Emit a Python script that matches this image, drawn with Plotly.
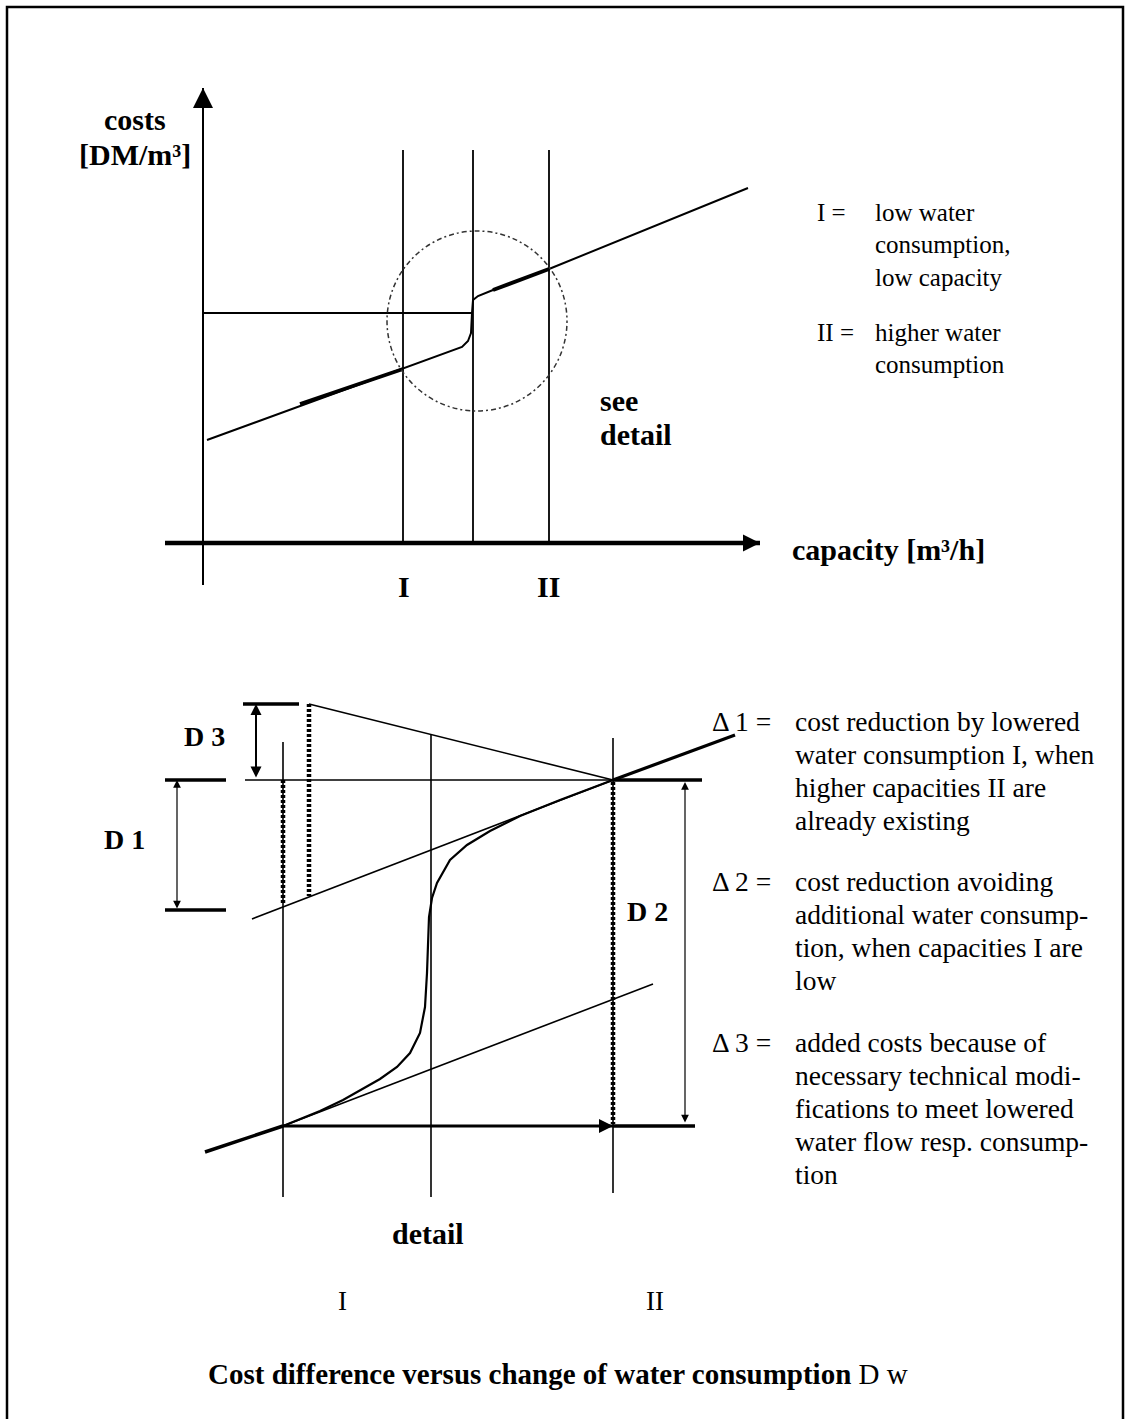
import plotly.graph_objects as go

W, H = 1128, 1419
FONT = "Liberation Serif"

# ---------------- frame ----------------
FRAME_X = [7, 7, 1123, 1123]
FRAME_Y = [1419, 7, 7, 1419]

# ---------------- upper chart ----------------
Y_AXIS_X = [203, 203]
Y_AXIS_Y = [585, 88]
X_AXIS_X = [165, 760]
X_AXIS_Y = [543, 543]
VERT_X = [403, 473, 549]
VERT_Y = [150, 543]
HLINE_X = [203, 473]
HLINE_Y = [313, 313]
COST_X = [207, 403, 447, 462, 468, 471, 472, 473, 478, 493, 549, 748]
COST_Y = [440, 369, 353, 347, 341, 333, 313, 300, 296, 290, 269, 188]
COST_THICK1_X = [300, 403]
COST_THICK1_Y = [404, 369]
COST_THICK2_X = [493, 549]
COST_THICK2_Y = [290, 269]
CIRCLE = dict(cx=477, cy=321, r=90)

# ---------------- detail chart ----------------
D3_TICK_X = [243, 299]
D3_TICK_Y = [704, 704]
D3_ARROW = dict(x=256, y0=704, y1=779)
D1_TICKS_X = [165, 226]
D1_TICKS_Y = [780, 910]
D1_ARROW = dict(x=177, y0=780, y1=910)
D2_ARROW = dict(x=685, y0=782, y1=1124)
HL_THIN_X = [245, 613]
HL_Y = 780
HL_THICK_X = [613, 702]
BOTTOM_THICK_X = [613, 695]
BOTTOM_Y = 1126
BOTTOM_ARROW_X = [283, 613]
DV_X = [283, 431, 613]
DV_Y0 = [742, 735, 738]
DV_Y1 = [1197, 1197, 1193]
DOT_X = [283, 309, 613]
DOT_Y0 = [780, 704, 782]
DOT_Y1 = [903, 896, 1124]
DESC_X = [309, 613]
DESC_Y = [704, 780]
UPPER_TAN_X = [252, 613]
UPPER_TAN_Y = [919, 780]
UPPER_THICK_X = [613, 735]
UPPER_THICK_Y = [780, 735]
LOWER_TAN_X = [283, 653]
LOWER_TAN_Y = [1126, 984]
LOWER_THICK_X = [205, 283]
LOWER_THICK_Y = [1152, 1126]
S_X = [283, 320, 343, 363, 380, 397, 410, 420, 425, 427, 428, 429, 432, 437, 450, 467, 490, 520, 560, 590, 613]
S_Y = [1126, 1111, 1100, 1089, 1079, 1067, 1053, 1033, 1007, 973, 940, 917, 898, 883, 860, 845, 831, 816, 800, 789, 780]

# ---------------- texts ----------------
# (text, x, y, anchor, size)
BOLD_LABELS = [
    ("costs", 135, 119, "center", 30),
    ("[DM/m³]", 135, 154, "center", 30),
    ("see", 598, 400, "left", 30),
    ("detail", 598, 434, "left", 30),
    ("capacity [m³/h]", 790, 549, "left", 30),
    ("I", 404, 586, "center", 30),
    ("II", 548, 586, "center", 30),
    ("D 3", 182, 736, "left", 28),
    ("D 1", 102, 839, "left", 28),
    ("D 2", 625, 911, "left", 28),
    ("detail", 428, 1233, "center", 30),
]
LEGEND_LABELS = [
    ("I =", 815, 212), ("low water", 873, 212), ("consumption,", 873, 244),
    ("low capacity", 873, 277), ("II =", 815, 332), ("higher water", 873, 332),
    ("consumption", 873, 364),
]
DELTA_LABELS = [
    ("Δ 1 =", 710, 721), ("cost reduction by lowered", 793, 721),
    ("water consumption I, when", 793, 754), ("higher capacities II are", 793, 787),
    ("already existing", 793, 820),
    ("Δ 2 =", 710, 881), ("cost reduction avoiding", 793, 881),
    ("additional water consump-", 793, 914), ("tion, when capacities I are", 793, 947),
    ("low", 793, 980),
    ("Δ 3 =", 710, 1042), ("added costs because of", 793, 1042),
    ("necessary technical modi-", 793, 1075), ("fications to meet lowered", 793, 1108),
    ("water flow resp. consump-", 793, 1141), ("tion", 793, 1174),
]
CENTER_REG = [("I", 342, 1301), ("II", 655, 1301)]
TITLE = ("<b>Cost difference versus change of water consumption</b> D w", 206, 1374)

fig = go.Figure()


def line(xs, ys, width=1.6, dash=None, color="black"):
    fig.add_trace(go.Scatter(x=xs, y=ys, mode="lines", hoverinfo="skip",
                             line=dict(color=color, width=width, dash=dash),
                             showlegend=False))


# frame
line(FRAME_X, FRAME_Y, 2.5)

# upper chart
line(Y_AXIS_X, Y_AXIS_Y, 2)
line(X_AXIS_X, X_AXIS_Y, 4.5)
for vx in VERT_X:
    line([vx, vx], VERT_Y, 1.8)
line(HLINE_X, HLINE_Y, 1.8)
line(COST_X, COST_Y, 2)
line(COST_THICK1_X, COST_THICK1_Y, 3.5)
line(COST_THICK2_X, COST_THICK2_Y, 4)

# detail chart
line(D3_TICK_X, D3_TICK_Y, 3.5)
for ty in D1_TICKS_Y:
    line(D1_TICKS_X, [ty, ty], 3.5)
line(HL_THIN_X, [HL_Y, HL_Y], 1.5)
line(HL_THICK_X, [HL_Y, HL_Y], 3.5)
line(BOTTOM_THICK_X, [BOTTOM_Y, BOTTOM_Y], 3.5)
line(BOTTOM_ARROW_X, [BOTTOM_Y, BOTTOM_Y], 3.2)
for vx, a, b in zip(DV_X, DV_Y0, DV_Y1):
    line([vx, vx], [a, b], 1.6)
for vx, a, b in zip(DOT_X, DOT_Y0, DOT_Y1):
    line([vx, vx], [a, b], 4.5, dash="3px,2px")
line(DESC_X, DESC_Y, 1.6)
line(UPPER_TAN_X, UPPER_TAN_Y, 1.6)
line(UPPER_THICK_X, UPPER_THICK_Y, 3.2)
line(LOWER_TAN_X, LOWER_TAN_Y, 1.6)
line(LOWER_THICK_X, LOWER_THICK_Y, 3.5)
line(S_X, S_Y, 2.2)

# circle
fig.add_shape(type="circle", xref="x", yref="y",
              x0=CIRCLE["cx"] - CIRCLE["r"], x1=CIRCLE["cx"] + CIRCLE["r"],
              y0=CIRCLE["cy"] - CIRCLE["r"], y1=CIRCLE["cy"] + CIRCLE["r"],
              line=dict(color="#333", width=1.5, dash="2px,3px,5px,3px"))


def arrow(x0, y0, x1, y1, width=2, head=2, size=1.5, side="end"):
    fig.add_annotation(x=x1, y=y1, ax=x0, ay=y0, xref="x", yref="y",
                       axref="x", ayref="y", text="", showarrow=True,
                       arrowhead=head, arrowsize=size, arrowwidth=width,
                       arrowcolor="black", arrowside=side, startarrowhead=head,
                       startarrowsize=size)


arrow(Y_AXIS_X[0], Y_AXIS_Y[0], Y_AXIS_X[1], Y_AXIS_Y[1], 2, 2, 2.0)
arrow(X_AXIS_X[0], X_AXIS_Y[0], X_AXIS_X[1], X_AXIS_Y[1], 2, 2, 1.7)
arrow(BOTTOM_ARROW_X[0], BOTTOM_Y, BOTTOM_ARROW_X[1], BOTTOM_Y, 2, 2, 1.4)
arrow(D3_ARROW["x"], D3_ARROW["y1"], D3_ARROW["x"], D3_ARROW["y0"], 2, 2, 1.1, "end+start")
arrow(D1_ARROW["x"], D1_ARROW["y1"], D1_ARROW["x"], D1_ARROW["y0"], 1.2, 2, 1.3, "end+start")
arrow(D2_ARROW["x"], D2_ARROW["y1"], D2_ARROW["x"], D2_ARROW["y0"], 1.2, 2, 1.3, "end+start")

for txt, x, y, anc, sz in BOLD_LABELS:
    fig.add_annotation(x=x, y=y, xref="x", yref="y", text=f"<b>{txt}</b>",
                       showarrow=False, xanchor=anc, yanchor="middle",
                       font=dict(family=FONT, size=sz, color="black"))
for txt, x, y in LEGEND_LABELS:
    fig.add_annotation(x=x, y=y, xref="x", yref="y", text=txt,
                       showarrow=False, xanchor="left", yanchor="middle",
                       font=dict(family=FONT, size=25, color="black"))
for txt, x, y in DELTA_LABELS:
    fig.add_annotation(x=x, y=y, xref="x", yref="y", text=txt,
                       showarrow=False, xanchor="left", yanchor="middle",
                       font=dict(family=FONT, size=27.5, color="black"))
for txt, x, y in CENTER_REG:
    fig.add_annotation(x=x, y=y, xref="x", yref="y", text=txt,
                       showarrow=False, xanchor="center", yanchor="middle",
                       font=dict(family=FONT, size=27, color="black"))
fig.add_annotation(x=TITLE[1], y=TITLE[2], xref="x", yref="y", text=TITLE[0],
                   showarrow=False, xanchor="left", yanchor="middle",
                   font=dict(family=FONT, size=29, color="black"))

fig.update_xaxes(range=[0, W], visible=False, fixedrange=True)
fig.update_yaxes(range=[H, 0], visible=False, fixedrange=True)
fig.update_layout(width=W, height=H, margin=dict(l=0, r=0, t=0, b=0),
                  autosize=False, plot_bgcolor="white", paper_bgcolor="white",
                  showlegend=False)

fig.write_html("out.html", config={"displayModeBar": False},
               post_script="document.body.style.margin='0';")
